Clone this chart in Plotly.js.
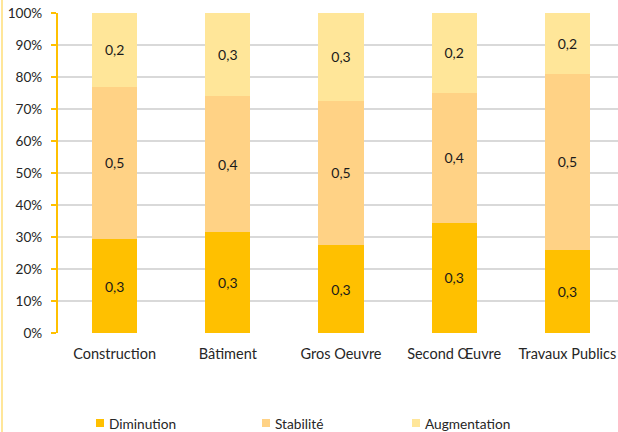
<!DOCTYPE html>
<html>
<head>
<meta charset="utf-8">
<script src="https://cdn.plot.ly/plotly-3.0.1.min.js"></script>
<style>
html,body{margin:0;padding:0;overflow:hidden;background:#fff;}
#wrap{position:relative;width:618px;height:432px;overflow:hidden;}
#edge{position:absolute;left:1px;top:0;width:2px;height:432px;background:#FFE699;z-index:5;}
#chart{position:absolute;left:0;top:0;}
</style>
</head>
<body>
<div id="wrap"><div id="edge"></div><div id="chart"></div></div>
<script>
const categories = ["Construction", "Bâtiment", "Gros Oeuvre", "Second Œuvre", "Travaux Publics"];
const diminution = [0.293, 0.315, 0.275, 0.345, 0.260];
const stabilite = [0.477, 0.426, 0.451, 0.406, 0.549];
const augmentation = [0.230, 0.259, 0.274, 0.249, 0.191];
const seriesNames = ["Diminution", "Stabilité", "Augmentation"];
const colors = ["#FFC000", "#FFD285", "#FFE699"];
const yTickVals = [0,0.1,0.2,0.3,0.4,0.5,0.6,0.7,0.8,0.9,1];

const font = "Lato, 'Open Sans', sans-serif";
const txtColor = "#262626";
const series = [diminution, stabilite, augmentation];
const traces = series.map((vals, i) => ({
  type: "bar",
  name: seriesNames[i],
  x: categories,
  y: vals,
  marker: {color: colors[i], line: {width: 0}},
  texttemplate: "%{y:.1f}",
  textposition: "inside",
  insidetextanchor: "middle",
  textangle: 0,
  textfont: {family: font, size: 14, color: "#1a1a1a"},
  hoverinfo: "skip"
}));

// plot area geometry (pixels) used to place the custom legend
const W = 625, H = 432, L = 58, R = 1, T = 13, B = 99;
const pw = W - L - R, ph = H - T - B;
const legendX = [96, 262, 412]; // left pixel of each legend square
const legendY = 423;            // centre pixel row of legend
const sq = 8;
const px2x = p => (p - L) / pw;
const py2y = p => (H - B - p) / ph;

const shapes = seriesNames.map((n, i) => ({
  type: "rect", xref: "paper", yref: "paper",
  x0: px2x(legendX[i]), x1: px2x(legendX[i] + sq),
  y0: py2y(legendY + sq / 2), y1: py2y(legendY - sq / 2),
  fillcolor: colors[i], line: {width: 0}
}));
const annotations = seriesNames.map((n, i) => ({
  text: n, xref: "paper", yref: "paper",
  x: px2x(legendX[i] + sq + 3), y: py2y(legendY),
  xanchor: "left", yanchor: "middle", showarrow: false,
  font: {family: font, size: 13.7, color: txtColor}
}));

const layout = {
  width: W, height: H,
  margin: {l: L, r: R, t: T, b: B},
  barmode: "stack",
  bargap: 0.6,
  separators: ", ",
  paper_bgcolor: "#fff",
  plot_bgcolor: "#fff",
  font: {family: font, size: 13, color: txtColor},
  showlegend: false,
  shapes: shapes,
  annotations: annotations,
  xaxis: {showgrid: false, showline: false, zeroline: false, ticks: "",
          ticklabelstandoff: 10,
          tickfont: {family: font, size: 14.5, color: txtColor}, automargin: false},
  yaxis: {range: [0, 1], tickvals: yTickVals, tickformat: ".0%",
          showgrid: true, gridcolor: "#d9d9d9", gridwidth: 1.3,
          showline: true, linecolor: "#FFC000", linewidth: 2,
          ticks: "outside", ticklen: 5, tickcolor: "#FFC000", tickwidth: 1.5,
          ticklabelstandoff: 6,
          zeroline: false, tickfont: {family: font, size: 13.6, color: txtColor},
          automargin: false}
};
Plotly.newPlot("chart", traces, layout, {displayModeBar: false, staticPlot: true});
</script>
</body>
</html>
